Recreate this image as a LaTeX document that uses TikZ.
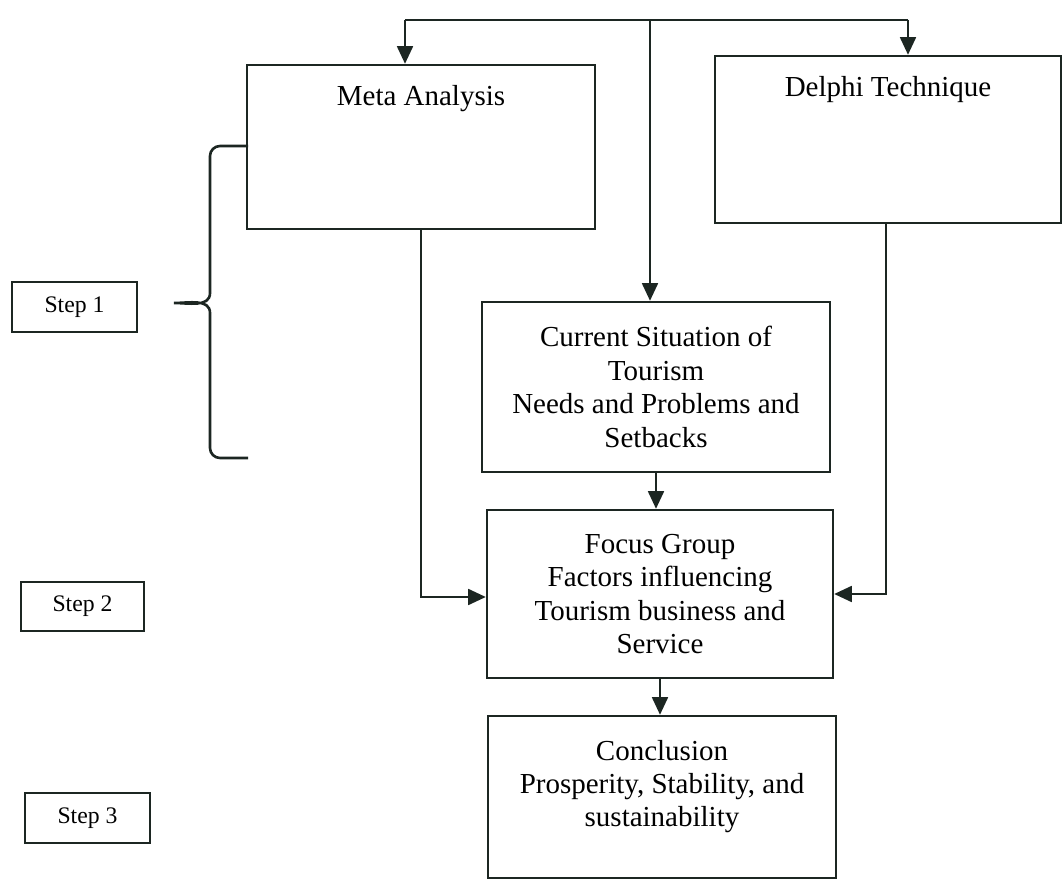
\documentclass[tikz,border=0pt]{standalone}
\usepackage{fontspec}
\setmainfont{Liberation Serif}
\usepackage{tikz}
\usetikzlibrary{arrows.meta}
\definecolor{ink}{RGB}{28,38,34}
\tikzset{
  box/.style={draw=ink, line width=1.4pt, inner sep=0pt, align=center,
    font=\fontsize{16.5}{19}\selectfont},
  txt/.style={font=\fontsize{16.5}{19}\selectfont, align=center, anchor=north},
  stepbox/.style={draw=ink, line width=1.3pt, font=\fontsize{13.5}{15}\selectfont,
    minimum width=2.5cm, minimum height=1cm},
  arr/.style={draw=ink, line width=1.3pt, -{Triangle[length=10pt,width=9pt]}},
  ln/.style={draw=ink, line width=1.3pt}
}
\begin{document}
\begin{tikzpicture}[x=0.02cm,y=-0.02cm]
\useasboundingbox (0,0) rectangle (1062,881);
\node[box, minimum width=6.96cm, minimum height=3.28cm,
  label={[txt, yshift=-0.3cm]north:Meta Analysis}] (M) at (421,147){};
\node[box, minimum width=6.92cm, minimum height=3.34cm,
  label={[txt, yshift=-0.3cm]north:Delphi Technique}] (D) at (888,139.5){};
\node[box, minimum width=6.96cm, minimum height=3.4cm] (S) at (656,387)
  {Current Situation of\\Tourism\\Needs and Problems and\\Setbacks};
\node[box, minimum width=6.92cm, minimum height=3.36cm] (F) at (660,594)
  {Focus Group\\Factors influencing\\Tourism business and\\Service};
\node[box, minimum width=6.96cm, minimum height=3.24cm,
  label={[txt, yshift=-0.38cm]north:{Conclusion\\Prosperity, Stability, and\\sustainability}}] (C) at (662,797){};
\node[stepbox] (S1) at (74.5,307){Step 1};
\node[stepbox, minimum width=2.46cm, minimum height=0.98cm] (S2) at (82.5,606.5){Step 2};
\node[stepbox] (S3) at (87.5,818){Step 3};
\coordinate (T) at (650,20);
\coordinate (TL) at (405,20);
\coordinate (TR) at (908,20);
\draw[ln] (TL) -- (TR);
\draw[arr] (TL) -- (TL |- M.north);
\draw[arr] (TR) -- (TR |- D.north);
\draw[arr] (T) -- (T |- S.north);
\draw[arr] (S.south) -- (S.south |- F.north);
\draw[arr] (F.south) -- (F.south |- C.north);
\draw[arr] (M.south) |- ([yshift=-0.06cm]F.west);
\draw[arr] ([xshift=-0.04cm]D.south) |- (F.east);
\draw[ln, line width=1.5pt] (248,146) -- (220,146) to[out=180,in=90] (210,156) -- (210,293)
  to[out=-90,in=0] (174,303) to[out=0,in=90] (210,313) -- (210,448)
  to[out=-90,in=180] (220,458) -- (248,458);
\end{tikzpicture}
\end{document}
